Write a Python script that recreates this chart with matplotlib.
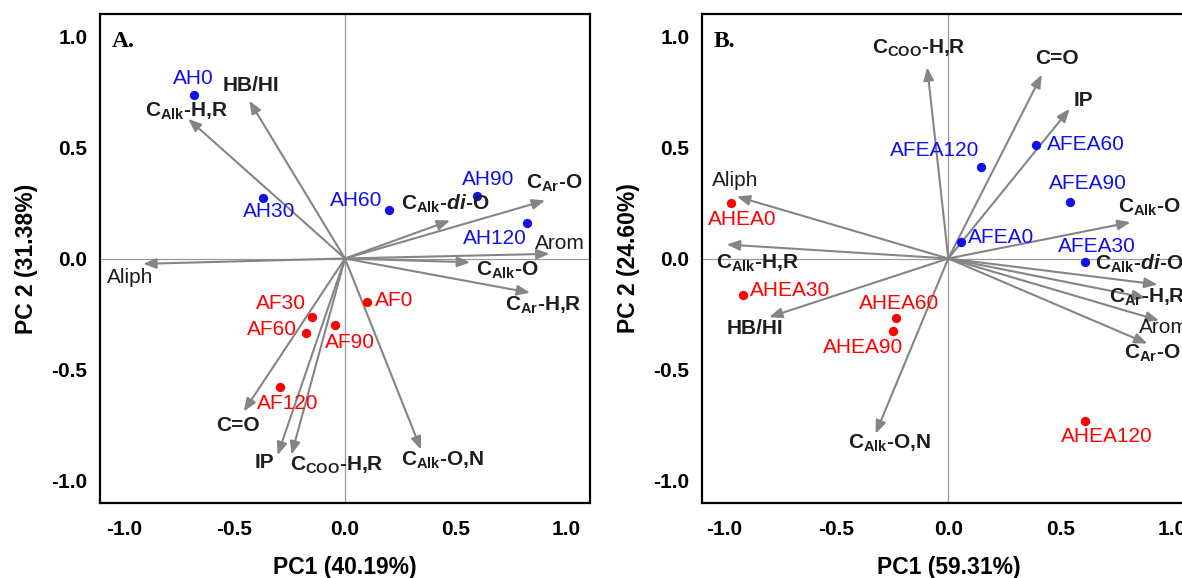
import matplotlib
matplotlib.use("Agg")
import matplotlib.pyplot as plt

plt.rcParams["font.family"] = ["Liberation Sans", "DejaVu Sans"]
plt.rcParams["axes.unicode_minus"] = False
plt.rcParams["mathtext.fontset"] = "custom"
plt.rcParams["mathtext.rm"] = "Liberation Sans"
plt.rcParams["mathtext.bf"] = "Liberation Sans:bold"
plt.rcParams["mathtext.it"] = "Liberation Sans:italic"
plt.rcParams["mathtext.bfit"] = "Liberation Sans:italic:bold"

# --- data: panel A ---
a_blue_names = ["AH0", "AH30", "AH60", "AH90", "AH120"]
a_blue_x = [-0.682, -0.372, 0.200, 0.599, 0.822]
a_blue_y = [0.734, 0.273, 0.216, 0.279, 0.159]
a_red_names = ["AF0", "AF30", "AF60", "AF90", "AF120"]
a_red_x = [0.101, -0.150, -0.176, -0.046, -0.292]
a_red_y = [-0.195, -0.265, -0.334, -0.297, -0.578]
a_load_names = ["CAlk-H,R", "HB/HI", "Aliph", "CAlk-di-O", "CAr-O", "Arom",
                "CAlk-O", "CAr-H,R", "C=O", "IP", "CCOO-H,R", "CAlk-O,N"]
a_load_x = [-0.709, -0.433, -0.913, 0.475, 0.905, 0.925,
            0.566, 0.837, -0.458, -0.305, -0.242, 0.344]
a_load_y = [0.628, 0.710, -0.024, 0.171, 0.261, 0.021,
            -0.017, -0.154, -0.688, -0.885, -0.882, -0.860]

# --- data: panel B ---
b_blue_names = ["AFEA0", "AFEA30", "AFEA60", "AFEA90", "AFEA120"]
b_blue_x = [0.055, 0.611, 0.391, 0.541, 0.145]
b_blue_y = [0.075, -0.017, 0.511, 0.252, 0.410]
b_red_names = ["AHEA0", "AHEA30", "AHEA60", "AHEA90", "AHEA120"]
b_red_x = [-0.969, -0.915, -0.233, -0.248, 0.608]
b_red_y = [0.249, -0.162, -0.268, -0.327, -0.731]
b_load_names = ["Aliph", "CAlk-H,R", "HB/HI", "CAlk-O,N", "CCOO-H,R", "C=O",
                "IP", "CAlk-O", "CAlk-di-O", "CAr-H,R", "Arom", "CAr-O"]
b_load_x = [-0.943, -0.988, -0.799, -0.324, -0.094, 0.417,
            0.541, 0.813, 0.933, 0.880, 0.940, 0.888]
b_load_y = [0.279, 0.063, -0.264, -0.788, 0.860, 0.827,
            0.673, 0.163, -0.117, -0.177, -0.279, -0.383]

ticks = [-1.0, -0.5, 0.0, 0.5, 1.0]

# display text for loading names
pretty = {
    "CAlk-H,R": r"$\mathbf{C_{Alk}}$-H,R",
    "CAlk-di-O": r"$\mathbf{C_{Alk}}$-$\mathbfit{di}$-O",
    "CAr-O": r"$\mathbf{C_{Ar}}$-O",
    "CAlk-O": r"$\mathbf{C_{Alk}}$-O",
    "CAr-H,R": r"$\mathbf{C_{Ar}}$-H,R",
    "CCOO-H,R": r"$\mathbf{C_{COO}}$-H,R",
    "CAlk-O,N": r"$\mathbf{C_{Alk}}$-O,N",
}

# label offsets in pixels (dx, dy, ha)
a_point_off = {
    "AH0": (-1, 17, "center"), "AH30": (6, -14, "center"), "AH60": (-7, 10, "right"),
    "AH90": (11, 17, "center"), "AH120": (-32, -15, "center"),
    "AF0": (8, 1, "left"), "AF30": (-31, 14, "center"), "AF60": (-9, 3, "right"),
    "AF90": (15, -18, "center"), "AF120": (7, -17, "center"),
}
a_load_off = {
    "CAlk-H,R": (-2, 8, "center"), "HB/HI": (2, 15, "center"), "Aliph": (-13, -14, "center"),
    "CAlk-di-O": (-5, 17, "center"), "CAr-O": (9, 17, "center"), "Arom": (10, 10, "center"),
    "CAlk-O": (37, -8, "center"), "CAr-H,R": (13, -13, "center"), "C=O": (-6, -14, "center"),
    "IP": (-13, -7, "center"), "CCOO-H,R": (45, -11, "center"), "CAlk-O,N": (22, -11, "center"),
}
b_point_off = {
    "AFEA0": (7, 4, "left"), "AFEA30": (12, 16, "center"), "AFEA60": (11, 0, "left"),
    "AFEA90": (18, 19, "center"), "AFEA120": (-46, 17, "center"),
    "AHEA0": (11, -16, "center"), "AHEA30": (7, 4, "left"), "AHEA60": (3, 15, "center"),
    "AHEA90": (-30, -16, "center"), "AHEA120": (22, -16, "center"),
}
b_load_off = {
    "Aliph": (-2, 16, "center"), "CAlk-H,R": (31, -19, "center"), "HB/HI": (-14, -11, "center"),
    "CAlk-O,N": (14, -10, "center"), "CCOO-H,R": (-8, 19, "center"), "C=O": (15, 16, "center"),
    "IP": (14, 8, "center"), "CAlk-O": (-13, 15, "left"), "CAlk-di-O": (-63, 21, "left"),
    "CAr-H,R": (-37, 0, "left"), "Arom": (-20, -7, "left"), "CAr-O": (-23, -10, "left"),
}

blue = "#1010ee"
red = "#ff0000"
arrow_col = "#858585"
text_dark = "#1e1e1e"


def draw_panel(ax, letter, xlabel, ylabel, blue_pts, red_pts, loads, p_off, l_off):
    ax.set_xlim(-1.108, 1.108)
    ax.set_ylim(-1.1, 1.1)
    ax.axhline(0, color="#9a9a9a", lw=0.9, zorder=1)
    ax.axvline(0, color="#9a9a9a", lw=0.9, zorder=1)

    names, xs, ys = loads
    for n, x, y in zip(names, xs, ys):
        ax.annotate("", xy=(x, y), xytext=(0, 0),
                    arrowprops=dict(arrowstyle="-|>,head_length=0.55,head_width=0.22",
                                    color=arrow_col, lw=1.5, shrinkA=0, shrinkB=0,
                                    mutation_scale=14), zorder=2)
        dx, dy, ha = l_off[n]
        weight = "normal" if n in ("Aliph", "Arom") else "bold"
        ax.annotate(pretty.get(n, n), xy=(x, y), xytext=(dx, dy),
                    textcoords="offset pixels", ha=ha, va="center",
                    fontsize=15, fontweight=weight, color=text_dark, zorder=4)

    for (names, xs, ys), col in ((blue_pts, blue), (red_pts, red)):
        ax.scatter(xs, ys, s=45, color=col, zorder=3, linewidths=0)
        for n, x, y in zip(names, xs, ys):
            dx, dy, ha = p_off[n]
            ax.annotate(n, xy=(x, y), xytext=(dx, dy), textcoords="offset pixels",
                        ha=ha, va="center", fontsize=15, color=col, zorder=4)

    ax.set_xticks(ticks)
    ax.set_yticks(ticks)
    ax.set_xticklabels([f"{t:.1f}" for t in ticks], fontweight="bold", fontsize=15)
    ax.set_yticklabels([f"{t:.1f}" for t in ticks], fontweight="bold", fontsize=15)
    ax.tick_params(axis="x", length=0, pad=12)
    ax.tick_params(axis="y", length=0, pad=9)
    for s in ax.spines.values():
        s.set_linewidth(1.6)

    ax.set_xlabel(xlabel, fontsize=16.5, fontweight="bold", va="center")
    ax.set_ylabel(ylabel, fontsize=16.5, fontweight="bold", va="center")
    ax.xaxis.set_label_coords(0.5, -0.131)
    ax.yaxis.set_label_coords(-0.149, 0.5)
    ax.text(0.024, 0.943, letter, transform=ax.transAxes, fontsize=17,
            fontweight="bold", family="Liberation Serif", va="center", ha="left")


fig = plt.figure(figsize=(11.82, 5.78), dpi=100)
ax1 = fig.add_axes([100 / 1182, 75 / 578, 490 / 1182, 489 / 578])
ax2 = fig.add_axes([702 / 1182, 75 / 578, 493 / 1182, 489 / 578])

draw_panel(ax1, "A.", "PC1 (40.19%)", "PC 2 (31.38%)",
           (a_blue_names, a_blue_x, a_blue_y), (a_red_names, a_red_x, a_red_y),
           (a_load_names, a_load_x, a_load_y), a_point_off, a_load_off)
draw_panel(ax2, "B.", "PC1 (59.31%)", "PC 2 (24.60%)",
           (b_blue_names, b_blue_x, b_blue_y), (b_red_names, b_red_x, b_red_y),
           (b_load_names, b_load_x, b_load_y), b_point_off, b_load_off)
ax2.set_xlim(-1.098, 1.1)

fig.savefig("out.png", dpi=100)
